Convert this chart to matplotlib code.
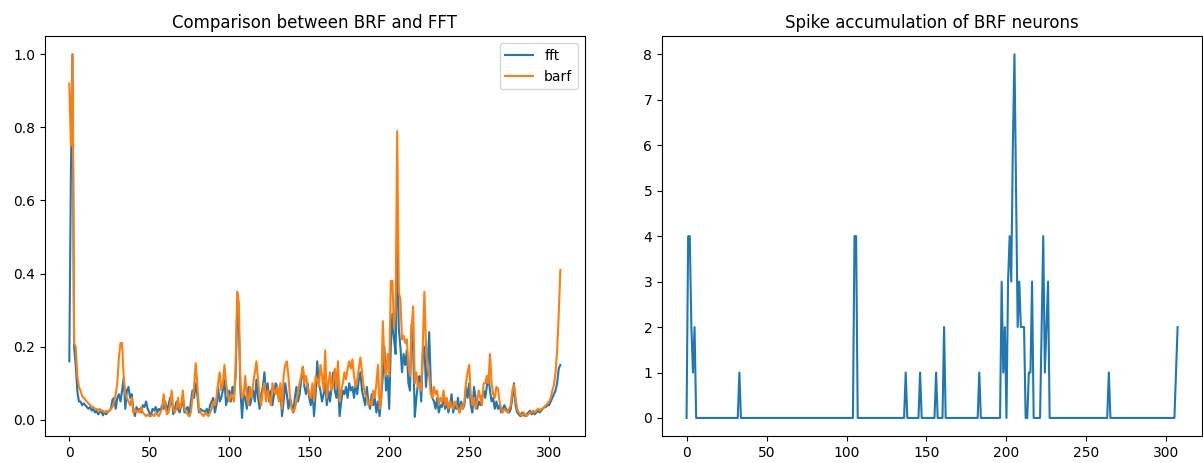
import numpy as np
import matplotlib
matplotlib.use("Agg")
import matplotlib.pyplot as plt

# normalised spectra (308 bins)
fft = [
    0.16, 0.68, 1.00, 0.20, 0.15, 0.08, 0.05, 0.05, 0.04, 0.045,
    0.04, 0.035, 0.03, 0.035, 0.025, 0.03, 0.02, 0.025, 0.015, 0.02,
    0.025, 0.012, 0.02, 0.015, 0.02, 0.025, 0.03, 0.055, 0.06, 0.03,
    0.06, 0.07, 0.05, 0.08, 0.115, 0.03, 0.08, 0.09, 0.06, 0.07,
    0.03, 0.01, 0.035, 0.025, 0.03, 0.02, 0.04, 0.035, 0.05, 0.03,
    0.02, 0.01, 0.03, 0.025, 0.035, 0.02, 0.03, 0.025, 0.04, 0.03,
    0.05, 0.025, 0.04, 0.06, 0.06, 0.015, 0.03, 0.05, 0.03, 0.02,
    0.04, 0.05, 0.02, 0.03, 0.035, 0.01, 0.05, 0.08, 0.06, 0.10,
    0.07, 0.02, 0.03, 0.025, 0.025, 0.02, 0.03, 0.015, 0.04, 0.05,
    0.06, 0.02, 0.04, 0.09, 0.05, 0.06, 0.08, 0.11, 0.04, 0.06,
    0.08, 0.05, 0.09, 0.07, 0.12, 0.31, 0.25, 0.08, 0.005, 0.07,
    0.06, 0.03, 0.09, 0.04, 0.06, 0.08, 0.05, 0.11, 0.06, 0.03,
    0.07, 0.09, 0.13, 0.06, 0.10, 0.05, 0.08, 0.04, 0.07, 0.10,
    0.09, 0.06, 0.08, 0.01, 0.05, 0.10, 0.07, 0.03, 0.06, 0.04,
    0.02, 0.06, 0.09, 0.05, 0.07, 0.11, 0.145, 0.09, 0.07, 0.10,
    0.06, 0.04, 0.08, 0.01, 0.07, 0.16, 0.10, 0.08, 0.05, 0.07,
    0.10, 0.04, 0.08, 0.05, 0.09, 0.13, 0.08, 0.06, 0.10, 0.01,
    0.05, 0.08, 0.07, 0.09, 0.06, 0.10, 0.08, 0.09, 0.06, 0.10,
    0.07, 0.11, 0.13, 0.08, 0.06, 0.04, 0.09, 0.05, 0.03, 0.07,
    0.04, 0.06, 0.02, 0.05, 0.01, 0.06, 0.12, 0.20, 0.08, 0.12,
    0.03, 0.20, 0.29, 0.22, 0.18, 0.50, 0.25, 0.20, 0.13, 0.18,
    0.15, 0.19, 0.10, 0.08, 0.26, 0.19, 0.008, 0.06, 0.10, 0.12,
    0.05, 0.18, 0.20, 0.09, 0.15, 0.24, 0.10, 0.06, 0.05, 0.03,
    0.06, 0.02, 0.04, 0.035, 0.06, 0.03, 0.05, 0.02, 0.04, 0.07,
    0.02, 0.04, 0.03, 0.06, 0.02, 0.05, 0.03, 0.04, 0.09, 0.06,
    0.10, 0.04, 0.02, 0.09, 0.06, 0.03, 0.05, 0.04, 0.06, 0.08,
    0.06, 0.09, 0.12, 0.08, 0.05, 0.06, 0.03, 0.05, 0.03, 0.04,
    0.02, 0.03, 0.04, 0.03, 0.025, 0.02, 0.03, 0.06, 0.10, 0.04,
    0.02, 0.015, 0.01, 0.02, 0.015, 0.01, 0.015, 0.02, 0.025, 0.015,
    0.02, 0.015, 0.02, 0.025, 0.02, 0.025, 0.03, 0.035, 0.035, 0.04,
    0.04, 0.05, 0.06, 0.07, 0.08, 0.10, 0.14, 0.15,
]

barf = [
    0.92, 0.75, 1.00, 0.21, 0.20, 0.12, 0.09, 0.08, 0.065, 0.06,
    0.055, 0.05, 0.045, 0.04, 0.035, 0.035, 0.03, 0.03, 0.025, 0.03,
    0.025, 0.025, 0.02, 0.025, 0.02, 0.025, 0.03, 0.035, 0.05, 0.07,
    0.10, 0.17, 0.21, 0.21, 0.12, 0.07, 0.06, 0.05, 0.04, 0.06,
    0.02, 0.03, 0.02, 0.025, 0.02, 0.035, 0.02, 0.015, 0.01, 0.015,
    0.01, 0.01, 0.015, 0.01, 0.02, 0.015, 0.01, 0.02, 0.03, 0.07,
    0.04, 0.015, 0.02, 0.04, 0.08, 0.03, 0.02, 0.03, 0.06, 0.03,
    0.04, 0.08, 0.03, 0.02, 0.015, 0.01, 0.02, 0.06, 0.09, 0.155,
    0.10, 0.03, 0.02, 0.015, 0.01, 0.02, 0.015, 0.01, 0.02, 0.03,
    0.05, 0.04, 0.06, 0.10, 0.13, 0.08, 0.10, 0.15, 0.10, 0.07,
    0.05, 0.07, 0.06, 0.05, 0.15, 0.35, 0.32, 0.10, 0.06, 0.07,
    0.12, 0.06, 0.04, 0.09, 0.06, 0.10, 0.13, 0.16, 0.11, 0.06,
    0.04, 0.08, 0.10, 0.05, 0.08, 0.06, 0.04, 0.10, 0.08, 0.07,
    0.09, 0.05, 0.10, 0.03, 0.12, 0.15, 0.16, 0.12, 0.06, 0.03,
    0.02, 0.03, 0.05, 0.08, 0.10, 0.12, 0.145, 0.10, 0.12, 0.09,
    0.07, 0.06, 0.10, 0.05, 0.12, 0.11, 0.09, 0.15, 0.12, 0.08,
    0.19, 0.06, 0.10, 0.13, 0.08, 0.10, 0.14, 0.09, 0.16, 0.05,
    0.08, 0.10, 0.13, 0.11, 0.14, 0.16, 0.14, 0.165, 0.12, 0.09,
    0.11, 0.14, 0.17, 0.13, 0.09, 0.07, 0.06, 0.04, 0.05, 0.04,
    0.08, 0.06, 0.10, 0.15, 0.03, 0.06, 0.27, 0.16, 0.12, 0.18,
    0.12, 0.38, 0.38, 0.25, 0.30, 0.79, 0.35, 0.33, 0.22, 0.23,
    0.21, 0.22, 0.15, 0.12, 0.25, 0.31, 0.10, 0.13, 0.09, 0.10,
    0.08, 0.20, 0.35, 0.20, 0.14, 0.12, 0.07, 0.06, 0.09, 0.07,
    0.08, 0.04, 0.06, 0.05, 0.08, 0.04, 0.06, 0.03, 0.05, 0.04,
    0.03, 0.05, 0.04, 0.03, 0.02, 0.04, 0.03, 0.05, 0.10, 0.13,
    0.15, 0.07, 0.04, 0.06, 0.03, 0.05, 0.08, 0.06, 0.04, 0.10,
    0.10, 0.12, 0.10, 0.18, 0.10, 0.07, 0.06, 0.09, 0.085, 0.05,
    0.03, 0.02, 0.03, 0.025, 0.02, 0.03, 0.04, 0.08, 0.095, 0.06,
    0.03, 0.02, 0.015, 0.01, 0.02, 0.015, 0.01, 0.015, 0.02, 0.02,
    0.025, 0.02, 0.025, 0.03, 0.025, 0.03, 0.03, 0.035, 0.04, 0.045,
    0.05, 0.06, 0.08, 0.095, 0.13, 0.19, 0.29, 0.41,
]

# spike counts per neuron (index: count), all others zero
n_neurons = 308
spike_idx = [1, 2, 3, 4, 5, 33, 105, 106, 137, 146, 156, 161, 183,
             197, 198, 199, 201, 202, 203, 204, 205, 206, 207, 208, 209,
             210, 211, 214, 215, 216, 222, 223, 224, 225, 226, 264, 306, 307]
spike_val = [4, 4, 2, 1, 2, 1, 4, 4, 1, 1, 1, 2, 1,
             3, 1, 2, 3, 4, 3, 6, 8, 5, 2, 3, 2,
             2, 2, 1, 1, 3, 2, 4, 1, 2, 3, 1, 1, 2]

spikes = np.zeros(n_neurons)
spikes[spike_idx] = spike_val

fig = plt.figure(figsize=(12.03, 4.63), dpi=100)
ax1 = fig.add_axes([0.0372, 0.058, 0.449, 0.864])
ax2 = fig.add_axes([0.5503, 0.058, 0.449, 0.864])

ax1.plot(fft, label="fft")
ax1.plot(barf, label="barf")
ax1.set_title("Comparison between BRF and FFT")
ax1.legend(loc="upper right")

ax2.plot(spikes)
ax2.set_title("Spike accumulation of BRF neurons")

fig.savefig("out.png", dpi=100)
